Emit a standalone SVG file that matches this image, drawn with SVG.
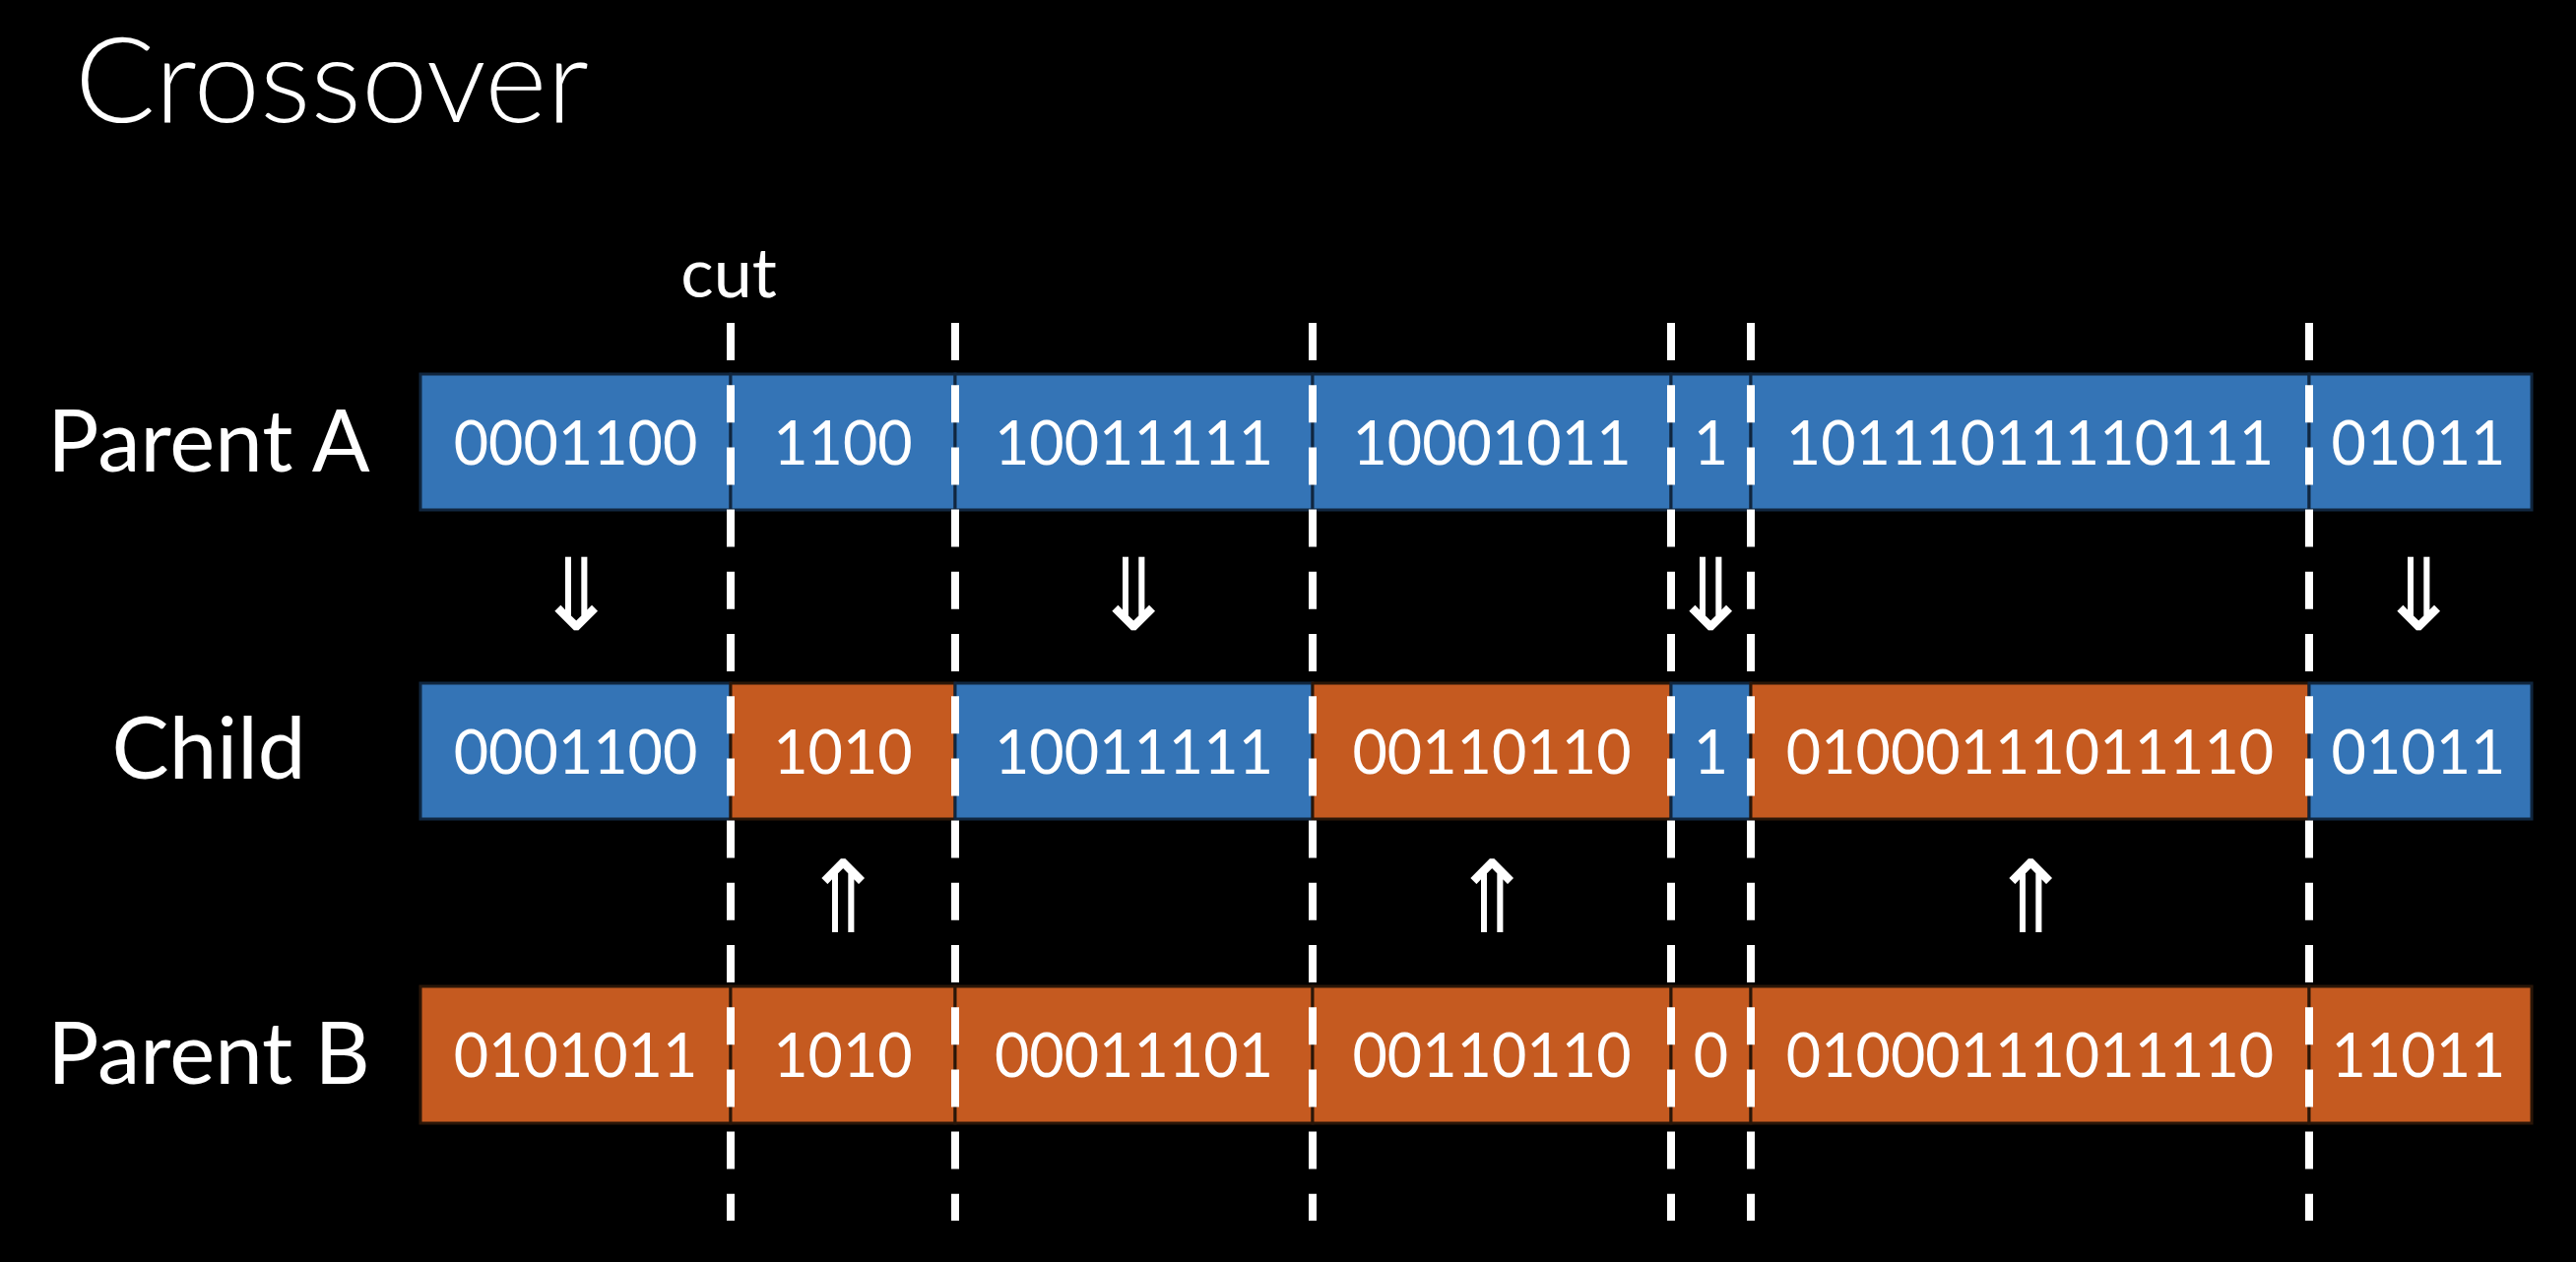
<svg xmlns="http://www.w3.org/2000/svg" width="2616" height="1282" viewBox="0 0 2616 1282">
<style>
.bg{fill:#000}
.blue{fill:#3474B6;stroke:#10263f;stroke-width:3}
.orange{fill:#C55A20;stroke:#2a1608;stroke-width:3}
.bits{font-family:Lato,"Liberation Sans",sans-serif;font-size:61px;fill:#fff;text-anchor:middle}
.label{font-family:Lato,"Liberation Sans",sans-serif;font-size:87px;fill:#fff;text-anchor:middle}
.title{font-family:Lato,"Liberation Sans",sans-serif;font-size:121px;fill:#fff;font-weight:300}
.cut{font-family:Lato,"Liberation Sans",sans-serif;font-size:70px;fill:#fff;text-anchor:middle}
.arrow{font-family:"DejaVu Sans",sans-serif;font-size:102px;fill:#fff;text-anchor:middle}
.dash{stroke:#fff;stroke-width:8;stroke-dasharray:38 25.2;fill:none}
</style>
<rect class="bg" x="0" y="0" width="2616" height="1282"/>
<g id="title"><text class="title" x="76" y="124">Crossover</text></g>
<g id="labels">
<text id="label-parent-a" class="label" x="212" y="479">Parent A</text>
<text id="label-child" class="label" x="212" y="791">Child</text>
<text id="label-parent-b" class="label" x="212" y="1101">Parent B</text>
<text id="label-cut" class="cut" x="740" y="302">cut</text>
</g>
<g id="parent-a">
<rect class="blue" x="427" y="380" width="315" height="138"/>
<rect class="blue" x="742" y="380" width="228" height="138"/>
<rect class="blue" x="970" y="380" width="363" height="138"/>
<rect class="blue" x="1333" y="380" width="364" height="138"/>
<rect class="blue" x="1697" y="380" width="81" height="138"/>
<rect class="blue" x="1778" y="380" width="567" height="138"/>
<rect class="blue" x="2345" y="380" width="226" height="138"/>
<text class="bits" x="584.5" y="472">0001100</text>
<text class="bits" x="856" y="472">1100</text>
<text class="bits" x="1151.5" y="472">10011111</text>
<text class="bits" x="1515" y="472">10001011</text>
<text class="bits" x="1737.5" y="472">1</text>
<text class="bits" x="2061.5" y="472">10111011110111</text>
<text class="bits" x="2456" y="472">01011</text>
</g>
<g id="child">
<rect class="blue" x="427" y="694" width="315" height="138"/>
<rect class="orange" x="742" y="694" width="228" height="138"/>
<rect class="blue" x="970" y="694" width="363" height="138"/>
<rect class="orange" x="1333" y="694" width="364" height="138"/>
<rect class="blue" x="1697" y="694" width="81" height="138"/>
<rect class="orange" x="1778" y="694" width="567" height="138"/>
<rect class="blue" x="2345" y="694" width="226" height="138"/>
<text class="bits" x="584.5" y="786">0001100</text>
<text class="bits" x="856" y="786">1010</text>
<text class="bits" x="1151.5" y="786">10011111</text>
<text class="bits" x="1515" y="786">00110110</text>
<text class="bits" x="1737.5" y="786">1</text>
<text class="bits" x="2061.5" y="786">01000111011110</text>
<text class="bits" x="2456" y="786">01011</text>
</g>
<g id="parent-b">
<rect class="orange" x="427" y="1002" width="315" height="139"/>
<rect class="orange" x="742" y="1002" width="228" height="139"/>
<rect class="orange" x="970" y="1002" width="363" height="139"/>
<rect class="orange" x="1333" y="1002" width="364" height="139"/>
<rect class="orange" x="1697" y="1002" width="81" height="139"/>
<rect class="orange" x="1778" y="1002" width="567" height="139"/>
<rect class="orange" x="2345" y="1002" width="226" height="139"/>
<text class="bits" x="584.5" y="1094">0101011</text>
<text class="bits" x="856" y="1094">1010</text>
<text class="bits" x="1151.5" y="1094">00011101</text>
<text class="bits" x="1515" y="1094">00110110</text>
<text class="bits" x="1737.5" y="1094">0</text>
<text class="bits" x="2061.5" y="1094">01000111011110</text>
<text class="bits" x="2456" y="1094">11011</text>
</g>
<g id="cuts">
<line class="dash" x1="742" y1="328" x2="742" y2="1240"/>
<line class="dash" x1="970" y1="328" x2="970" y2="1240"/>
<line class="dash" x1="1333" y1="328" x2="1333" y2="1240"/>
<line class="dash" x1="1697" y1="328" x2="1697" y2="1240"/>
<line class="dash" x1="1778" y1="328" x2="1778" y2="1240"/>
<line class="dash" x1="2345" y1="328" x2="2345" y2="1240"/>
</g>
<g id="connectors">
<text class="arrow" x="585" y="640">⇓</text>
<text class="arrow" x="1151" y="640">⇓</text>
<text class="arrow" x="1737" y="640">⇓</text>
<text class="arrow" x="2456" y="640">⇓</text>
<text class="arrow" x="856" y="947">⇑</text>
<text class="arrow" x="1515" y="947">⇑</text>
<text class="arrow" x="2062" y="947">⇑</text>
</g>
</svg>
